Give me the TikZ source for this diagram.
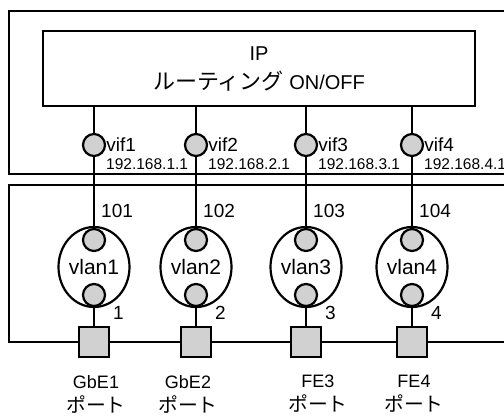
\documentclass[tikz,border=0pt]{standalone}
\usepackage{fontspec}
\setmainfont{Liberation Sans}
\newfontfamily\jp[Scale=1.1]{Noto Sans CJK JP}
\usetikzlibrary{shapes.geometric}

\tikzset{
  frame/.style={line width=2.2pt},
  ifcirc/.style={circle, draw, line width=2.2pt, fill=black!18, minimum size=22pt, inner sep=0pt},
  vlanbox/.style={ellipse, draw, line width=2.2pt, minimum width=60pt, minimum height=80pt, inner sep=0pt, font=\fontsize{21}{24}\selectfont},
  portbox/.style={rectangle, draw, line width=2.2pt, fill=black!18, minimum size=30pt, inner sep=0pt},
  lab/.style={inner sep=1pt, font=\fontsize{19}{22}\selectfont},
  iplab/.style={inner sep=1pt, font=\fontsize{15.5}{18}\selectfont},
  portlab/.style={align=center, inner sep=0pt, font=\fontsize{18}{24}\selectfont}
}

\begin{document}
\begin{tikzpicture}[x=1pt, y=-1pt]
\clip (0,0) rectangle (504,416);

  % Draw the router box
  \draw[frame] (9,11) rectangle (530,174);
  \node[draw, frame, minimum width=432pt, minimum height=75pt, align=center,
        font=\fontsize{20}{29}\selectfont] (ip) at (259,68.5) {IP\\{\jp ルーティング} ON/OFF};

  % Draw the vif, vlan and port of each line
  \foreach \i/\x/\ip/\pname/\dx in {1/94/192.168.1.1/GbE1/2, 2/196/192.168.2.1/GbE2/-8,
                                    3/306/192.168.3.1/FE3/12, 4/412/192.168.4.1/FE4/2} {
    \node[ifcirc] (vif\i) at (\x,145) {};
    \node[lab, anchor=west, inner sep=0pt] (vifname\i) at (vif\i.east) {vif\i};
    \node[iplab, anchor=base west] (ipaddr\i) at (\x+11,169) {\ip};
    \node[lab, anchor=west] (vid\i) at (\x+6,211) {10\i};
    \node[vlanbox] (vlan\i) at (\x,267) {vlan\i};
    \node[ifcirc] (vtop\i) at (\x,240) {};
    \node[ifcirc] (vbot\i) at (\x,295) {};
    \node[lab, anchor=west] (pnum\i) at (\x+18,313) {\i};
    \node[portbox] (port\i) at (\x,342) {};
    \node[portlab] (pname\i) at (\x+\dx,394) {\pname\\{\jp ポート}};

    \draw[frame] (ip.south -| vif\i) -- (vif\i);
    \draw[frame] (vif\i) -- (vtop\i);
    \draw[frame] (vbot\i) -- (port\i);
  }

  % Draw the switch box
  \draw[frame] (port1.west) -| (9,185) -- (530,185);
  \draw[frame] (port1) -- (port2);
  \draw[frame] (port2) -- (port3);
  \draw[frame] (port3) -- (port4);
  \draw[frame] (port4.east) -- (530,342);

\end{tikzpicture}
\end{document}
